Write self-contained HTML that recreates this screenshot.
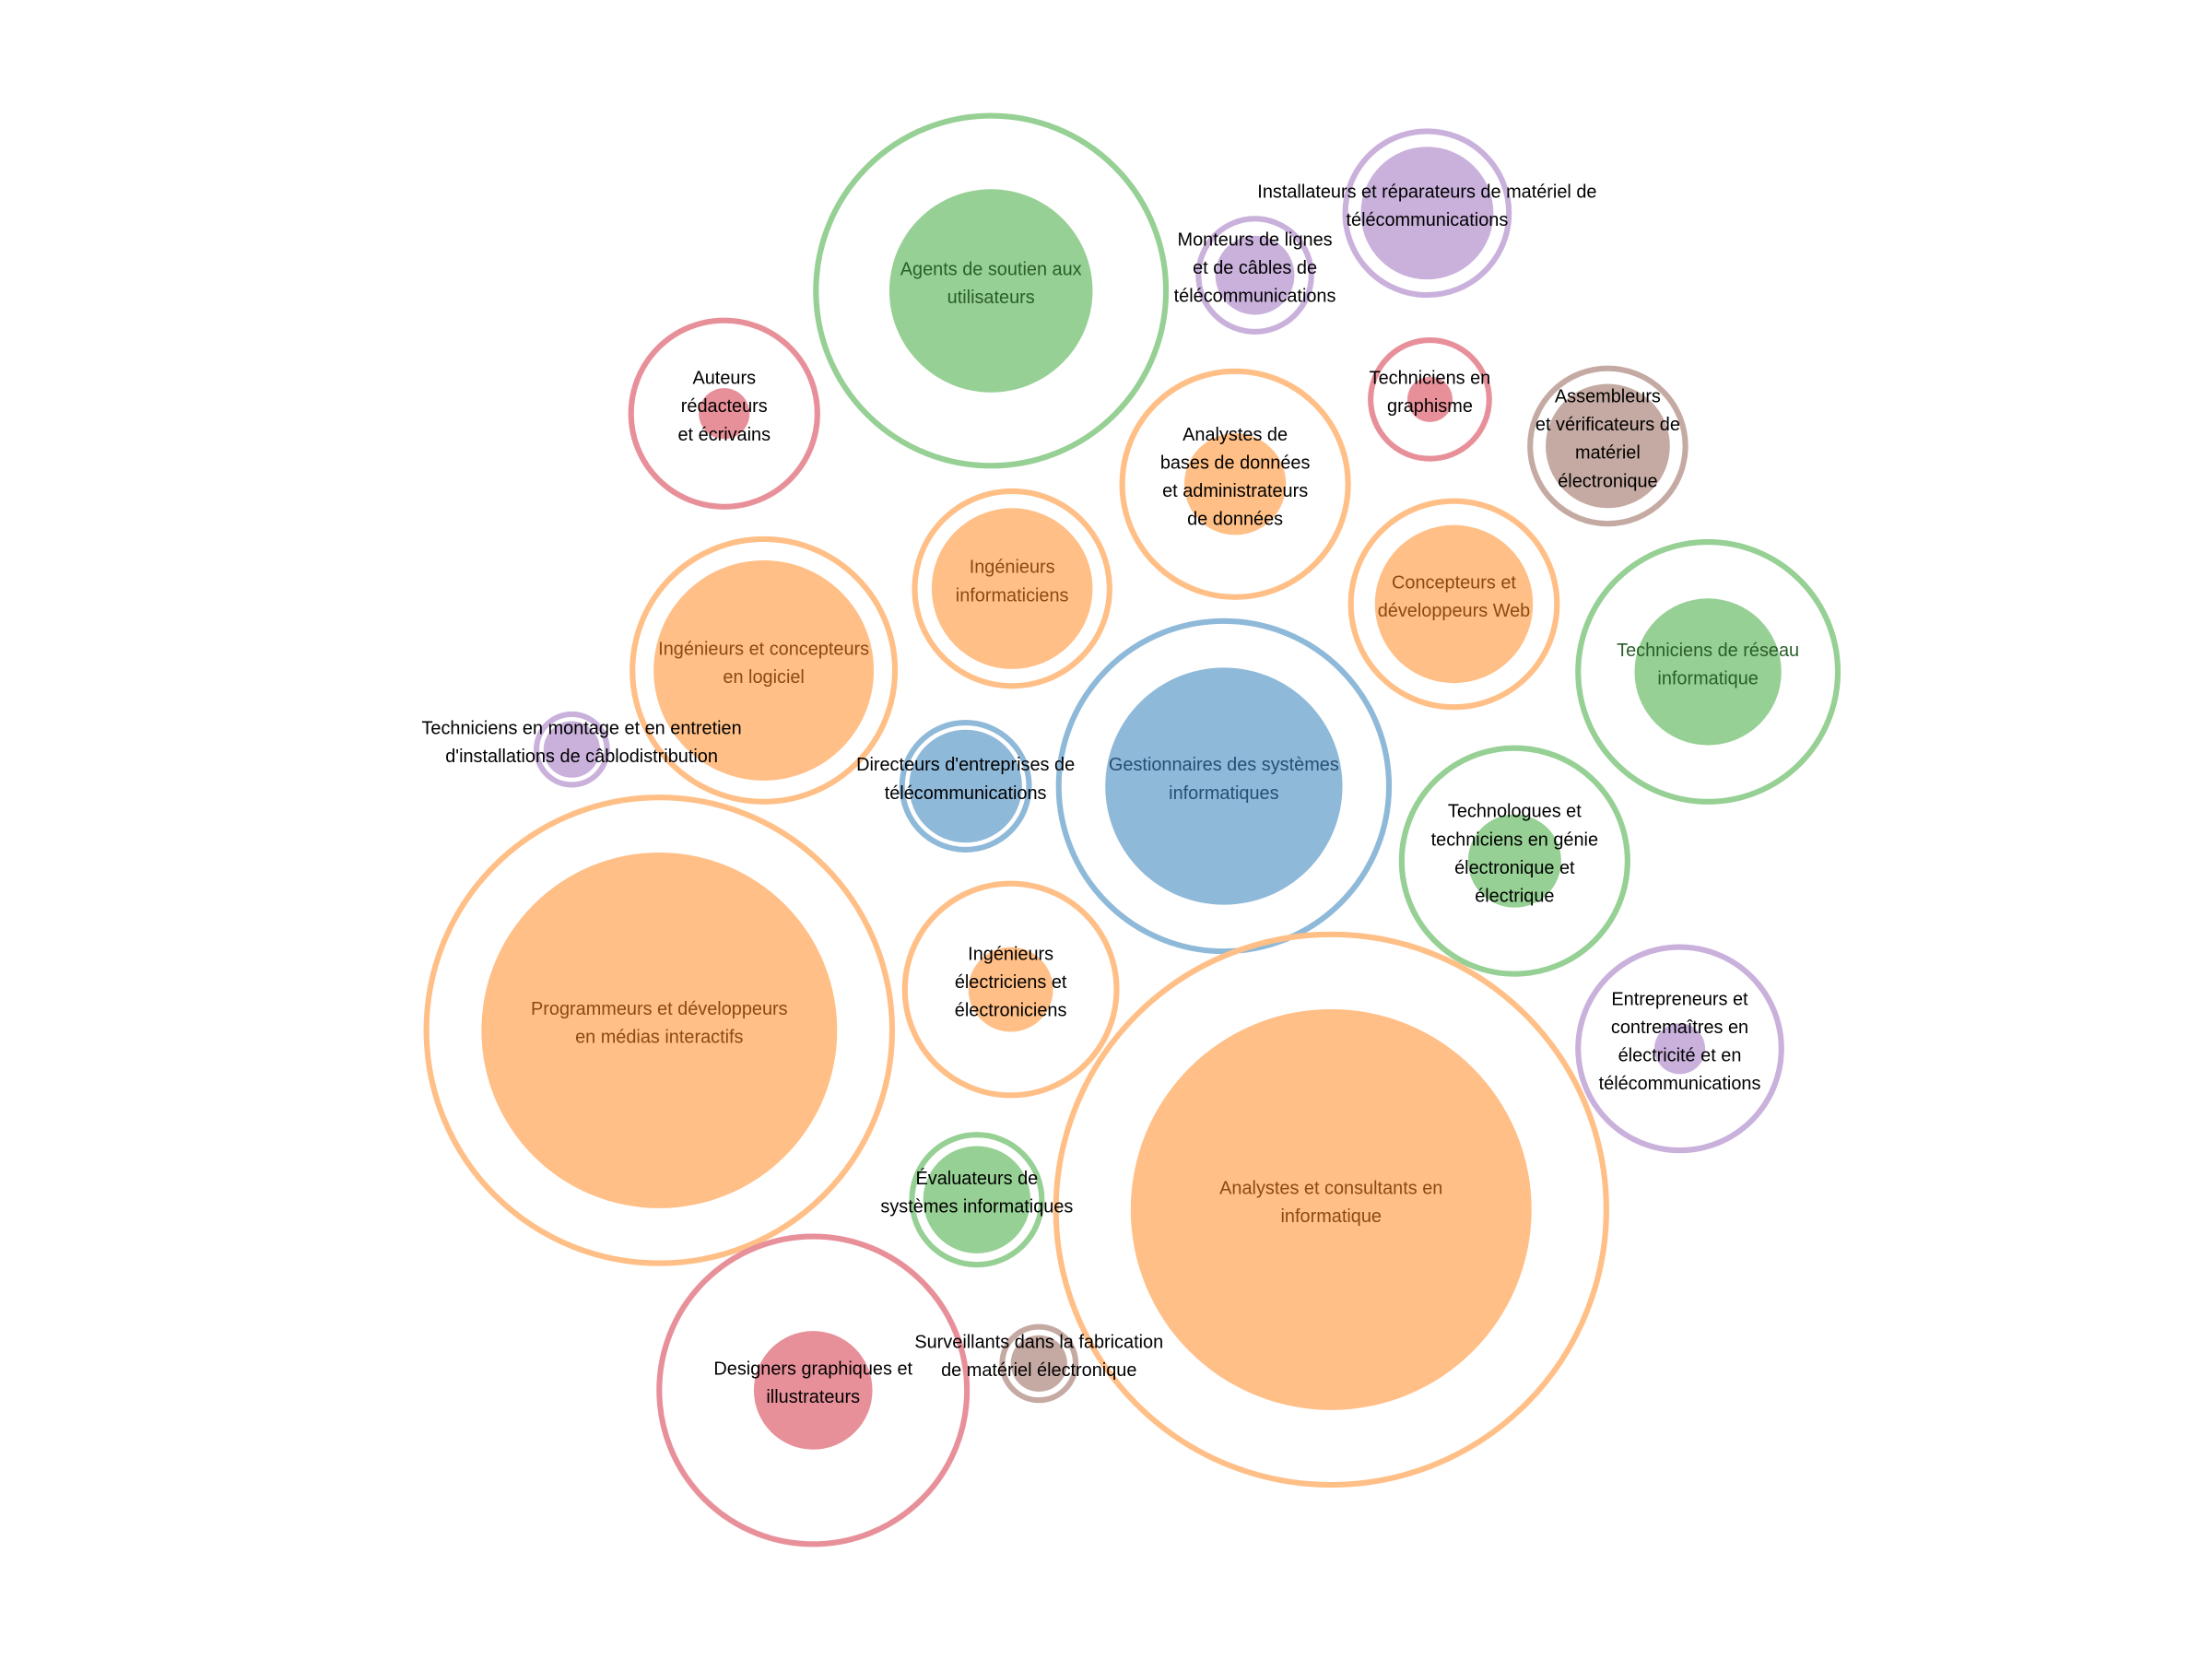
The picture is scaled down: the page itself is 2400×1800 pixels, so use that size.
<!DOCTYPE html>
<html><head><meta charset="utf-8"><style>
html,body{margin:0;padding:0;background:#fff;}
svg{display:block;}
text{font-family:"Liberation Sans",sans-serif;font-size:13px;text-anchor:middle;}
</style></head>
<body>
<svg id="chart" width="2400" height="1800" viewBox="0 0 1567 1175.4" xmlns="http://www.w3.org/2000/svg"></svg>
<script>
const labels = [
"Agents de soutien aux|utilisateurs","Installateurs et réparateurs de matériel de|télécommunications","Monteurs de lignes|et de câbles de|télécommunications","Auteurs|rédacteurs|et écrivains","Techniciens en|graphisme","Assembleurs|et vérificateurs de|matériel|électronique","Analystes de|bases de données|et administrateurs|de données","Ingénieurs|informaticiens","Concepteurs et|développeurs Web","Ingénieurs et concepteurs|en logiciel","Techniciens de réseau|informatique","Gestionnaires des systèmes|informatiques","Directeurs d'entreprises de|télécommunications","Techniciens en montage et en entretien|d'installations de câblodistribution","Technologues et|techniciens en génie|électronique et|électrique","Programmeurs et développeurs|en médias interactifs","Ingénieurs|électriciens et|électroniciens","Analystes et consultants en|informatique","Entrepreneurs et|contremaîtres en|électricité et en|télécommunications","Évaluateurs de|systèmes informatiques","Designers graphiques et|illustrateurs","Surveillants dans la fabrication|de matériel électronique"];
const groups = ["green","purple","purple","red","red","brown","orange","orange","orange","orange","green","blue","blue","purple","green","orange","orange","orange","purple","green","red","brown"];
const outerValues = [124,58,40,66,42,55,80,69,73,93,92,117,45,25,80,165,75,195,72,46,109,26];
const innerValues = [72,47,28,18,16,44,36,57,56,78,52,84,40,20,33,126,30,142,18,38,42,20];
const xPos = [702,1011,889,513,1013,1139,875,717,1030,541,1210,867,684,405,1073,467,716,943,1190,692,576,736];
const yPos = [206,151,195,293,283,316,343,417,428,475,476,557,557,531,610,730,701,857,743,850,985,966];
const labelX = [702,1011,889,513,1013,1139,875,717,1030,541,1210,867,684,412,1073,467,716,943,1190,692,576,736];
const colors = {green:"#96d094",purple:"#c9b1dc",red:"#e8909a",brown:"#c5aaa3",orange:"#ffbf86",blue:"#8fb9d9"};
const darks = {green:"#2b5e29",orange:"#8a4a12",blue:"#274f73",purple:"#000",red:"#000",brown:"#000"};
const svg = document.getElementById('chart');
const NS = "http://www.w3.org/2000/svg";
for (let i=0;i<labels.length;i++){
  const g = document.createElementNS(NS,'g');
  
  
  const c = colors[groups[i]];
  const o = document.createElementNS(NS,'circle');
  
  
  o.setAttribute('cx',xPos[i]);o.setAttribute('cy',yPos[i]);o.setAttribute('r',outerValues[i]);
  o.setAttribute('fill','none');o.setAttribute('stroke',c);o.setAttribute('stroke-width',4);
  g.appendChild(o);
  const n = document.createElementNS(NS,'circle');
  
  
  n.setAttribute('cx',xPos[i]);n.setAttribute('cy',yPos[i]);n.setAttribute('r',innerValues[i]);
  n.setAttribute('fill',c);
  g.appendChild(n);
  const lines = labels[i].split('|');
  const big = innerValues[i] > 50;
  const t = document.createElementNS(NS,'text');
  
  
  t.setAttribute('fill', big ? darks[groups[i]] : '#000');
  const y0 = yPos[i] - (lines.length-1)*10 - 1;
  lines.forEach((s,k)=>{
    const ts = document.createElementNS(NS,'tspan');
    ts.setAttribute('x',labelX[i]);ts.setAttribute('y',y0+k*20);
    ts.textContent = s;
    t.appendChild(ts);
  });
  g.appendChild(t);
  svg.appendChild(g);
}
</script>
</body></html>
